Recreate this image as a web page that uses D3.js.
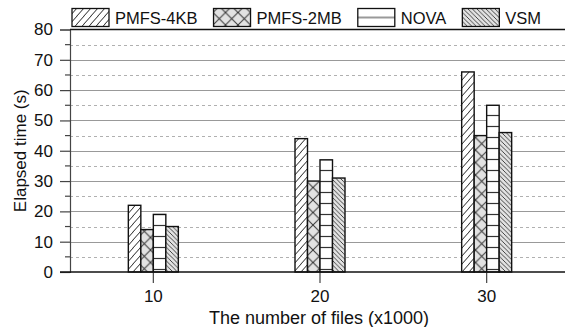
<!DOCTYPE html>
<html>
<head>
<meta charset="utf-8">
<script src="https://cdn.jsdelivr.net/npm/d3@7"></script>
<style>
  html, body { margin: 0; padding: 0; background: #fff; }
  svg { display: block; font-family: "Liberation Sans", Arial, sans-serif; }
</style>
</head>
<body>
<div id="chart"></div>
<script>
const groups = ['10', '20', '30'];
const seriesNames = ['PMFS-4KB', 'PMFS-2MB', 'NOVA', 'VSM'];
const pmfs4kb = [22, 44, 66];
const pmfs2mb = [14, 30, 45];
const nova = [19, 37, 55];
const vsm = [15, 31, 46];
const majorTicks = [0, 10, 20, 30, 40, 50, 60, 70, 80];
const minorTicks = [5, 15, 25, 35, 45, 55, 65, 75];

const seriesValues = [pmfs4kb, pmfs2mb, nova, vsm];
const patternIds = ['p-fwd', 'p-cross', 'p-horiz', 'p-back'];

const width = 565, height = 327;
const plotLeft = 70, plotRight = 570, plotTop = 29.5, plotBottom = 272;
const textColor = '#111';

const svg = d3.select('#chart').append('svg')
  .attr('width', width)
  .attr('height', height);

// patterns
const defs = svg.append('defs');

const fwd = defs.append('pattern').attr('id', 'p-fwd')
  .attr('patternUnits', 'userSpaceOnUse').attr('width', 7).attr('height', 8);
fwd.append('rect').attr('width', 7).attr('height', 8).attr('fill', '#fff');
fwd.append('path').attr('d', 'M-1,9 L8,-1 M-8,9 L1,-1 M6,9 L15,-1')
  .attr('stroke', '#222').attr('stroke-width', 1);

const cross = defs.append('pattern').attr('id', 'p-cross')
  .attr('patternUnits', 'userSpaceOnUse').attr('width', 12.5).attr('height', 12.5)
  .attr('x', 0.5);
cross.append('rect').attr('width', 12.5).attr('height', 12.5).attr('fill', '#e2e2e2');
cross.append('path').attr('d', 'M0,0 L12.5,12.5 M12.5,0 L0,12.5')
  .attr('stroke', '#333').attr('stroke-width', 1);

const horiz = defs.append('pattern').attr('id', 'p-horiz')
  .attr('patternUnits', 'userSpaceOnUse').attr('width', 10).attr('height', 11);
horiz.append('rect').attr('width', 10).attr('height', 11).attr('fill', '#fff');
horiz.append('line').attr('x1', 0).attr('x2', 10).attr('y1', 5.5).attr('y2', 5.5)
  .attr('stroke', '#333').attr('stroke-width', 1.2);

const back = defs.append('pattern').attr('id', 'p-back')
  .attr('patternUnits', 'userSpaceOnUse').attr('width', 4.5).attr('height', 4.5);
back.append('rect').attr('width', 4.5).attr('height', 4.5).attr('fill', '#e2e2e2');
back.append('path').attr('d', 'M-1,-1 L5.5,5.5 M-1,3.5 L1,5.5 M3.5,-1 L5.5,1')
  .attr('stroke', '#333').attr('stroke-width', 0.9);

// legend swatch for NOVA is a single line
const horizLegend = defs.append('pattern').attr('id', 'p-horiz-legend')
  .attr('patternUnits', 'objectBoundingBox').attr('width', 1).attr('height', 1);
horizLegend.append('rect').attr('width', 37).attr('height', 18).attr('fill', '#fff');
horizLegend.append('line').attr('x1', 0).attr('x2', 37).attr('y1', 9).attr('y2', 9)
  .attr('stroke', '#777').attr('stroke-width', 1.5);

// scales
const x0 = d3.scaleBand().domain(groups).range([plotLeft, plotRight]).padding(0);
const x1 = d3.scaleBand().domain(seriesNames).range([-25, 25]).padding(0);
const y = d3.scaleLinear().domain([0, 80]).range([plotBottom, plotTop]);

// gridlines
svg.append('g').selectAll('line')
  .data(minorTicks).enter().append('line')
  .attr('x1', plotLeft).attr('x2', width)
  .attr('y1', d => Math.round(y(d)) + 0.5).attr('y2', d => Math.round(y(d)) + 0.5)
  .attr('stroke', '#b0b0b0').attr('stroke-dasharray', '3,3');

svg.append('g').selectAll('line')
  .data(majorTicks.filter(d => d > 0 && d < 80)).enter().append('line')
  .attr('x1', plotLeft).attr('x2', width)
  .attr('y1', d => Math.round(y(d)) + 0.5).attr('y2', d => Math.round(y(d)) + 0.5)
  .attr('stroke', '#999').attr('stroke-width', 1.2);

// bars
const barData = [];
groups.forEach((g, gi) => {
  seriesNames.forEach((s, si) => {
    barData.push({ group: g, series: s, value: seriesValues[si][gi], pat: patternIds[si] });
  });
});

svg.append('g').selectAll('rect')
  .data(barData).enter().append('rect')
  .attr('x', d => x0(d.group) + x0.bandwidth() / 2 + x1(d.series))
  .attr('y', d => y(d.value))
  .attr('width', x1.bandwidth())
  .attr('height', d => y(0) - y(d.value))
  .attr('fill', d => 'url(#' + d.pat + ')')
  .attr('stroke', '#111')
  .attr('stroke-width', 1.4);

// y axis
const yAxis = d3.axisLeft(y).tickValues(majorTicks).tickSize(10).tickPadding(7)
  .tickFormat(d3.format('d'));
const yg = svg.append('g').attr('transform', `translate(${plotLeft},0)`).call(yAxis);
yg.select('.domain').attr('stroke', '#444').attr('stroke-width', 1.2);
yg.selectAll('.tick line').attr('stroke', '#444').attr('stroke-width', 1.2);
yg.selectAll('.tick text').attr('font-size', 17).attr('fill', textColor)
  .attr('font-family', '"Liberation Sans", Arial, sans-serif');

svg.append('g').selectAll('line')
  .data(minorTicks).enter().append('line')
  .attr('x1', plotLeft - 5).attr('x2', plotLeft)
  .attr('y1', d => y(d)).attr('y2', d => y(d))
  .attr('stroke', '#444').attr('stroke-width', 1.2);

// top frame line
svg.append('line').attr('x1', plotLeft).attr('x2', width)
  .attr('y1', y(80)).attr('y2', y(80))
  .attr('stroke', '#111').attr('stroke-width', 1.4);

// x axis
const xAxis = d3.axisBottom(x0).tickSize(11).tickPadding(7);
const xg = svg.append('g').attr('transform', `translate(0,${plotBottom})`).call(xAxis);
xg.select('.domain').remove();
xg.selectAll('.tick line').attr('stroke', '#444').attr('stroke-width', 1.2);
xg.selectAll('.tick text').attr('font-size', 17).attr('fill', textColor)
  .attr('font-family', '"Liberation Sans", Arial, sans-serif');
svg.append('line').attr('x1', plotLeft - 10).attr('x2', width)
  .attr('y1', plotBottom).attr('y2', plotBottom)
  .attr('stroke', '#111').attr('stroke-width', 1.6);

// axis titles
svg.append('text')
  .attr('x', 319).attr('y', 324)
  .attr('text-anchor', 'middle')
  .attr('font-size', 18).attr('fill', textColor)
  .text('The number of files (x1000)');

svg.append('text')
  .attr('transform', `translate(26,${(plotTop + plotBottom) / 2}) rotate(-90)`)
  .attr('text-anchor', 'middle')
  .attr('font-size', 17).attr('fill', textColor)
  .text('Elapsed time (s)');

// legend
const legendPats = ['p-fwd', 'p-cross', 'p-horiz-legend', 'p-back'];
const legend = svg.append('g');
let lx = 72;
seriesNames.forEach((s, i) => {
  legend.append('rect')
    .attr('x', lx).attr('y', 8.5).attr('width', 37).attr('height', 18)
    .attr('fill', 'url(#' + legendPats[i] + ')')
    .attr('stroke', '#111').attr('stroke-width', 1.3);
  const t = legend.append('text')
    .attr('x', lx + 43).attr('y', 24)
    .attr('font-size', 16.5).attr('fill', textColor)
    .text(s);
  lx += 43 + t.node().getComputedTextLength() + 16;
});
</script>
</body>
</html>
